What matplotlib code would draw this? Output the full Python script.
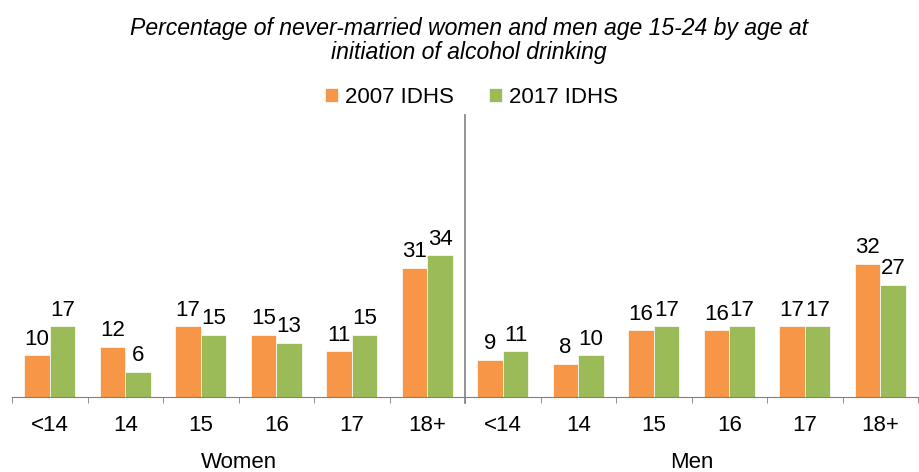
import matplotlib.pyplot as plt
import numpy as np

plt.rcParams['font.family'] = ['Liberation Sans', 'DejaVu Sans']

ages = ["<14", "14", "15", "16", "17", "18+"]
groups = ["Women", "Men"]
idhs_2007 = [10, 12, 17, 15, 11, 31, 9, 8, 16, 16, 17, 32]
idhs_2017 = [17, 6, 15, 13, 15, 34, 11, 10, 17, 17, 17, 27]

orange = "#F79646"
green = "#9BBB59"
grey = "#808080"

fig = plt.figure(figsize=(9.19, 4.72), dpi=100)
ax = fig.add_axes([12 / 919, 75 / 472, 906 / 919, 279 / 472])

x = np.arange(len(idhs_2007))
w = 0.34
b1 = ax.bar(x - w / 2, idhs_2007, w, color=orange, edgecolor="white", linewidth=0.5, label="2007 IDHS")
b2 = ax.bar(x + w / 2, idhs_2017, w, color=green, edgecolor="white", linewidth=0.5, label="2017 IDHS")
for bars in (b1, b2):
    ax.bar_label(bars, padding=4, fontsize=16)

ax.set_xlim(-0.5, len(x) - 0.5)
ax.set_ylim(0, 67)
for s in ("top", "right", "left"):
    ax.spines[s].set_visible(False)
ax.spines["bottom"].set_color(grey)
ax.set_yticks([])

# labels at the bar groups, tick marks between them
ax.set_xticks(x)
ax.set_xticklabels(ages * 2, fontsize=16)
ax.tick_params(axis="x", which="major", length=0, pad=13)
ax.set_xticks(np.arange(-0.5, len(x)), minor=True)
ax.tick_params(axis="x", which="minor", length=4.5, color=grey)

# divider between women and men
ax.plot([5.5, 5.5], [-0.022, 1.01], transform=ax.get_xaxis_transform(),
        color=grey, linewidth=1.2, clip_on=False)

tr = ax.get_xaxis_transform()
ax.text(2.5, -0.235, groups[0], transform=tr, ha="center", va="center", fontsize=16)
ax.text(8.5, -0.235, groups[1], transform=tr, ha="center", va="center", fontsize=16)

fig.text(0.51, 0.914, "Percentage of never-married women and men age 15-24 by age at\ninitiation of alcohol drinking",
         ha="center", va="center", fontsize=16.6, style="italic", linespacing=1.08)

fig.legend(loc="center", bbox_to_anchor=(0.513, 0.794), ncol=2, frameon=False,
           fontsize=16, handlelength=0.6, handleheight=0.6, handletextpad=0.3,
           columnspacing=1.6)

fig.savefig("out.png", dpi=100)
